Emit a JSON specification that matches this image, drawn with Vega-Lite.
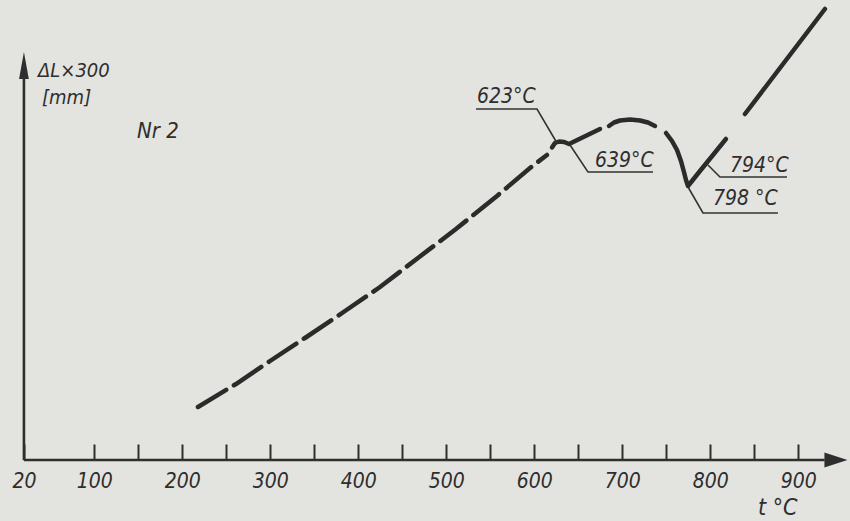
{
  "$schema": "https://vega.github.io/schema/vega-lite/v6.json",
  "width": 850,
  "height": 521,
  "autosize": "none",
  "padding": 0,
  "background": "#e3e3df",
  "config": {"view": {"stroke": null}, "font": "DejaVu Sans Condensed, Roboto, sans-serif"},
  "datasets": {
    "dashed": [
      {"t": 217.8, "dL": 53}, {"t": 261.0, "dL": 76}, {"t": 299.7, "dL": 99},
      {"t": 339.4, "dL": 122}, {"t": 384.9, "dL": 149}, {"t": 424.7, "dL": 173},
      {"t": 467.8, "dL": 202}, {"t": 511.0, "dL": 231}, {"t": 557.6, "dL": 264},
      {"t": 595.1, "dL": 292}, {"t": 614.4, "dL": 305}
    ],
    "solid": [
      {"seg": "a", "i": 1, "t": 620.1, "dL": 312.5}, {"seg": "a", "i": 2, "t": 623.5, "dL": 317},
      {"seg": "a", "i": 3, "t": 628.1, "dL": 318.5}, {"seg": "a", "i": 4, "t": 634.0, "dL": 318},
      {"seg": "a", "i": 5, "t": 639.4, "dL": 316}, {"seg": "a", "i": 6, "t": 643.0, "dL": 317.5},
      {"seg": "a", "i": 7, "t": 674.7, "dL": 331},
      {"seg": "b", "i": 1, "t": 684.9, "dL": 334}, {"seg": "b", "i": 2, "t": 690.6, "dL": 337.5},
      {"seg": "b", "i": 3, "t": 697.4, "dL": 339.5}, {"seg": "b", "i": 4, "t": 708.8, "dL": 340.5},
      {"seg": "b", "i": 5, "t": 720.1, "dL": 339.5}, {"seg": "b", "i": 6, "t": 729.2, "dL": 337.5},
      {"seg": "b", "i": 7, "t": 737.2, "dL": 334},
      {"seg": "c", "i": 1, "t": 749.7, "dL": 327}, {"seg": "c", "i": 2, "t": 756.5, "dL": 319},
      {"seg": "c", "i": 3, "t": 762.2, "dL": 310}, {"seg": "c", "i": 4, "t": 766.7, "dL": 299},
      {"seg": "c", "i": 5, "t": 770.1, "dL": 288}, {"seg": "c", "i": 6, "t": 772.4, "dL": 280},
      {"seg": "c", "i": 7, "t": 774.7, "dL": 274}, {"seg": "c", "i": 8, "t": 788.3, "dL": 289},
      {"seg": "c", "i": 9, "t": 803.1, "dL": 305}, {"seg": "c", "i": 10, "t": 817.8, "dL": 321},
      {"seg": "d", "i": 1, "t": 839.4, "dL": 346}, {"seg": "d", "i": 2, "t": 930.3, "dL": 451}
    ],
    "leaders": [
      {"seg": "623", "i": 1, "t": 533.8, "dL": 351}, {"seg": "623", "i": 2, "t": 603.1, "dL": 351}, {"seg": "623", "i": 3, "t": 625.8, "dL": 317},
      {"seg": "639", "i": 1, "t": 640.6, "dL": 315}, {"seg": "639", "i": 2, "t": 661.0, "dL": 288}, {"seg": "639", "i": 3, "t": 734.9, "dL": 288},
      {"seg": "794", "i": 1, "t": 797.4, "dL": 295}, {"seg": "794", "i": 2, "t": 811.0, "dL": 283}, {"seg": "794", "i": 3, "t": 887.2, "dL": 283},
      {"seg": "798", "i": 1, "t": 774.7, "dL": 273}, {"seg": "798", "i": 2, "t": 791.7, "dL": 247}, {"seg": "798", "i": 3, "t": 876.9, "dL": 247}
    ],
    "axes": [
      {"axis": "x", "t": 20, "t2": 930, "dL": 0, "dL2": 0},
      {"axis": "y", "t": 20, "t2": 20, "dL": 0, "dL2": 386}
    ],
    "arrows": [
      {"axis": "x", "t": 942.8, "dL": 0},
      {"axis": "y", "t": 20, "dL": 394.5}
    ],
    "notes": [
      {"label": "623°C", "t": 534.9, "dL": 357},
      {"label": "639°C", "t": 669.0, "dL": 293},
      {"label": "794°C", "t": 822.4, "dL": 288},
      {"label": "798 °C", "t": 803.1, "dL": 255}
    ],
    "titles": [
      {"label": "ΔL×300", "kind": "y", "t": 36, "dL": 383},
      {"label": "[mm]", "kind": "y", "t": 40.6, "dL": 356},
      {"label": "Nr 2", "kind": "n", "t": 148.5, "dL": 322},
      {"label": "t  °C", "kind": "x", "t": 854.2, "dL": -55}
    ]
  },
  "encoding": {
    "x": {
      "field": "t", "type": "quantitative",
      "scale": {"domain": [-7.2, 958.8], "nice": false, "zero": false},
      "axis": {
        "orient": "bottom", "offset": -61, "domain": false, "grid": false, "title": null,
        "values": [20, 100, 150, 200, 250, 300, 350, 400, 450, 500, 550, 600, 650, 700, 750, 800, 850, 900],
        "labelExpr": "datum.value == 20 || datum.value % 100 == 0 ? datum.label : ''",
        "tickSize": -16, "tickWidth": 2, "tickColor": "#2e2e2e",
        "labelFont": "DejaVu Sans Condensed, Roboto, sans-serif", "labelFontStyle": "italic", "labelFontSize": 21,
        "labelColor": "#2e2e2e", "labelPadding": 43, "labelBaseline": "alphabetic",
        "labelAlign": "center", "labelFlush": false, "labelOverlap": false, "format": "d"
      }
    },
    "y": {
      "field": "dL", "type": "quantitative",
      "scale": {"domain": [-61, 460], "nice": false, "zero": false},
      "axis": null
    }
  },
  "layer": [
    {
      "data": {"name": "axes"},
      "mark": {"type": "rule", "color": "#2e2e2e", "strokeWidth": 2.6},
      "encoding": {"x2": {"field": "t2"}, "y2": {"field": "dL2"}}
    },
    {
      "data": {"name": "arrows"},
      "transform": [{"filter": "datum.axis == 'x'"}],
      "mark": {"type": "point", "filled": true, "opacity": 1, "color": "#2e2e2e", "size": 529, "shape": "M1,0L-1,-0.65L-1,0.65Z"},
      "encoding": {}
    },
    {
      "data": {"name": "arrows"},
      "transform": [{"filter": "datum.axis == 'y'"}],
      "mark": {"type": "point", "filled": true, "opacity": 1, "color": "#2e2e2e", "size": 729, "shape": "M0,-1L0.36,1L-0.36,1Z"},
      "encoding": {}
    },
    {
      "data": {"name": "dashed"},
      "mark": {"type": "line", "color": "#2b2b2b", "strokeWidth": 4.5, "strokeCap": "round", "strokeDash": [33, 9]},
      "encoding": {}
    },
    {
      "data": {"name": "solid"},
      "mark": {"type": "line", "color": "#2b2b2b", "strokeWidth": 4.5, "strokeCap": "round", "strokeJoin": "round"},
      "encoding": {"detail": {"field": "seg"}, "order": {"field": "i"}}
    },
    {
      "data": {"name": "leaders"},
      "mark": {"type": "line", "color": "#333333", "strokeWidth": 1.6},
      "encoding": {"detail": {"field": "seg"}, "order": {"field": "i"}}
    },
    {
      "data": {"name": "notes"},
      "mark": {"type": "text", "align": "left", "baseline": "alphabetic", "fontSize": 21, "fontStyle": "italic", "color": "#2e2e2e"},
      "encoding": {"text": {"field": "label"}}
    },
    {
      "data": {"name": "titles"},
      "transform": [{"filter": "datum.kind == 'y'"}],
      "mark": {"type": "text", "align": "left", "baseline": "alphabetic", "fontSize": 20, "fontStyle": "italic", "color": "#2e2e2e"},
      "encoding": {"text": {"field": "label"}}
    },
    {
      "data": {"name": "titles"},
      "transform": [{"filter": "datum.kind == 'n'"}],
      "mark": {"type": "text", "align": "left", "baseline": "alphabetic", "fontSize": 22, "fontStyle": "italic", "color": "#2e2e2e"},
      "encoding": {"text": {"field": "label"}}
    },
    {
      "data": {"name": "titles"},
      "transform": [{"filter": "datum.kind == 'x'"}],
      "mark": {"type": "text", "align": "left", "baseline": "alphabetic", "fontSize": 23, "fontStyle": "italic", "color": "#2e2e2e"},
      "encoding": {"text": {"field": "label"}}
    }
  ]
}
